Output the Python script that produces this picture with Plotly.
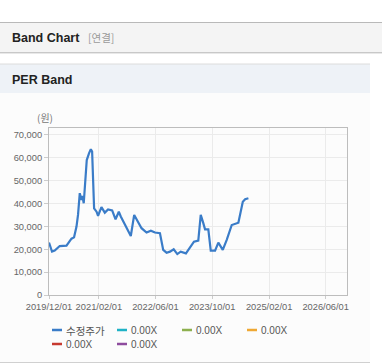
import plotly.graph_objects as go

# ---- data ----
dates = ["2019-12-01", "2019-12-27", "2020-01-19", "2020-03-02", "2020-04-29", "2020-05-18",
         "2020-06-11", "2020-07-03", "2020-07-24", "2020-08-06", "2020-08-21", "2020-09-05",
         "2020-09-13", "2020-09-24", "2020-10-09", "2020-10-20", "2020-11-09", "2020-11-24",
         "2020-12-05", "2020-12-13", "2020-12-22", "2021-01-12", "2021-01-25", "2021-02-23",
         "2021-03-24", "2021-04-21", "2021-05-26", "2021-06-24", "2021-07-22", "2021-08-08",
         "2021-09-06", "2021-10-05", "2021-11-02", "2021-12-01", "2021-12-30", "2022-02-02",
         "2022-03-17", "2022-04-23", "2022-05-28", "2022-07-10", "2022-08-07", "2022-09-05",
         "2022-10-04", "2022-11-05", "2022-12-06", "2023-01-04", "2023-02-18", "2023-03-25",
         "2023-04-28", "2023-06-04", "2023-06-25", "2023-07-17", "2023-08-01", "2023-08-29",
         "2023-09-19", "2023-10-26", "2023-11-23", "2023-12-31", "2024-02-03", "2024-03-17",
         "2024-04-29", "2024-05-13", "2024-06-20", "2024-07-10", "2024-08-07"]
price = [22900, 18950, 19400, 21400, 21600, 22900,
         24600, 25200, 29900, 35000, 44500, 41500,
         43300, 40100, 48900, 59000, 62000, 63700,
         62700, 50300, 37900, 36400, 34600, 38400,
         36000, 37400, 37000, 33100, 36400, 34300,
         31400, 28400, 25800, 35000, 32100, 29200,
         27300, 28100, 27300, 27000, 19700, 18500,
         18950, 20000, 17900, 18950, 18200, 20900,
         23300, 23800, 35000, 31400, 28700, 28700,
         19400, 19400, 22900, 19700, 24100, 30600,
         31400, 31600, 40800, 41900, 42300]

x_tick_vals = ["2019-12-01", "2021-02-01", "2022-06-01", "2023-10-01", "2025-02-01", "2026-06-01"]
x_tick_text = ["2019/12/01", "2021/02/01", "2022/06/01", "2023/10/01", "2025/02/01", "2026/06/01"]
y_tick_vals = [0, 10000, 20000, 30000, 40000, 50000, 60000, 70000]

legend_labels = ["수정주가", "0.00X", "0.00X", "0.00X", "0.00X", "0.00X"]
legend_colors = ["#3a7cc8", "#1fb2c6", "#8db04e", "#efa834", "#c73a30", "#8e4c9e"]

# ---- layout geometry (pixels) ----
W, H = 382, 364
L, R, T, B = 49, 35, 128, 69
PW, PH = W - L - R, H - T - B

def px(x):
    return (x - L) / PW

def py(y):
    return (H - B - y) / PH

FONT = "Liberation Sans, Arial, Noto Sans CJK KR, sans-serif"
KFONT = "Noto Sans CJK KR, Liberation Sans, sans-serif"

fig = go.Figure()
fig.add_trace(go.Scatter(x=dates, y=price, mode="lines", name=legend_labels[0],
                         line=dict(color=legend_colors[0], width=2.2), showlegend=False,
                         hoverinfo="skip"))

shapes = []
# page header band
shapes.append(dict(type="rect", xref="paper", yref="paper", x0=px(0), x1=px(W), y0=py(52), y1=py(22),
                   fillcolor="#f4f4f4", line=dict(width=0), layer="below"))
shapes.append(dict(type="line", xref="paper", yref="paper", x0=px(0), x1=px(W), y0=py(22.5), y1=py(22.5),
                   line=dict(color="#b9b9b9", width=1), layer="below"))
shapes.append(dict(type="line", xref="paper", yref="paper", x0=px(0), x1=px(W), y0=py(52.5), y1=py(52.5),
                   line=dict(color="#c8c8c8", width=1), layer="below"))
shapes.append(dict(type="line", xref="paper", yref="paper", x0=px(0), x1=px(W), y0=py(53.5), y1=py(53.5),
                   line=dict(color="#e8e8e8", width=1), layer="below"))
# section bg
shapes.append(dict(type="rect", xref="paper", yref="paper", x0=px(0), x1=px(370), y0=py(362), y1=py(93),
                   fillcolor="#fcfcfc", line=dict(width=0), layer="below"))
# PER band header
shapes.append(dict(type="rect", xref="paper", yref="paper", x0=px(0), x1=px(370), y0=py(93), y1=py(64),
                   fillcolor="#eef2f7", line=dict(width=0), layer="below"))
shapes.append(dict(type="line", xref="paper", yref="paper", x0=px(0), x1=px(370), y0=py(64), y1=py(64),
                   line=dict(color="#dcdcdc", width=1), layer="below"))
shapes.append(dict(type="line", xref="paper", yref="paper", x0=px(0), x1=px(370), y0=py(362.5), y1=py(362.5),
                   line=dict(color="#d0d0d0", width=1), layer="below"))

annotations = []
annotations.append(dict(text="<b>Band Chart</b>", xref="paper", yref="paper", x=px(10), y=py(37.5),
                        xanchor="left", yanchor="middle", showarrow=False,
                        font=dict(family=FONT, size=12.5, color="#222222")))
annotations.append(dict(text="[연결]", xref="paper", yref="paper", x=px(86), y=py(37.5),
                        xanchor="left", yanchor="middle", showarrow=False,
                        font=dict(family=KFONT, size=10.5, color="#9a9a9a")))
annotations.append(dict(text="<b>PER Band</b>", xref="paper", yref="paper", x=px(10), y=py(79.5),
                        xanchor="left", yanchor="middle", showarrow=False,
                        font=dict(family=FONT, size=12.5, color="#222222")))
annotations.append(dict(text="(원)", xref="paper", yref="paper", x=px(45), y=py(117),
                        xanchor="center", yanchor="middle", showarrow=False,
                        font=dict(family=KFONT, size=10, color="#777777")))

# custom legend (two rows, fixed columns)
col_x = [52, 117, 182, 247]
row_y = [330, 344]
for i, (lab, col) in enumerate(zip(legend_labels, legend_colors)):
    r, c = divmod(i, 4)
    x0, y0 = col_x[c], row_y[r]
    shapes.append(dict(type="line", xref="paper", yref="paper", x0=px(x0), x1=px(x0 + 10),
                       y0=py(y0), y1=py(y0), line=dict(color=col, width=2.5)))
    annotations.append(dict(text=lab, xref="paper", yref="paper", x=px(x0 + 12), y=py(y0),
                            xanchor="left", yanchor="middle", showarrow=False,
                            font=dict(family=KFONT if i == 0 else FONT, size=10.5 if i == 0 else 10,
                                      color="#555555")))

fig.update_layout(
    width=W, height=H,
    margin=dict(l=L, r=R, t=T, b=B, pad=0),
    paper_bgcolor="#ffffff", plot_bgcolor="#ffffff",
    shapes=shapes, annotations=annotations, showlegend=False,
    font=dict(family=FONT, size=9.5, color="#666666"),
)
fig.update_xaxes(type="date", range=["2019-12-01", "2026-12-01"], tickvals=x_tick_vals,
                 ticktext=x_tick_text, showgrid=True, gridcolor="#ebebeb", gridwidth=1,
                 showline=True, linecolor="#bdbdbd", linewidth=1, mirror=True,
                 ticks="outside", ticklen=3, tickcolor="#cccccc",
                 tickfont=dict(family=FONT, size=9.3, color="#666666"), zeroline=False)
fig.update_yaxes(range=[0, 73000], tickvals=y_tick_vals, tickformat=",d",
                 showgrid=True, gridcolor="#ebebeb", gridwidth=1,
                 showline=True, linecolor="#bdbdbd", linewidth=1, mirror=True,
                 ticks="outside", ticklen=4, tickcolor="#cccccc",
                 tickfont=dict(family=FONT, size=9.3, color="#666666"), zeroline=False)

fig.write_html("out.html", config={"displayModeBar": False},
               post_script="document.body.style.margin='0';document.body.style.overflow='hidden';")
